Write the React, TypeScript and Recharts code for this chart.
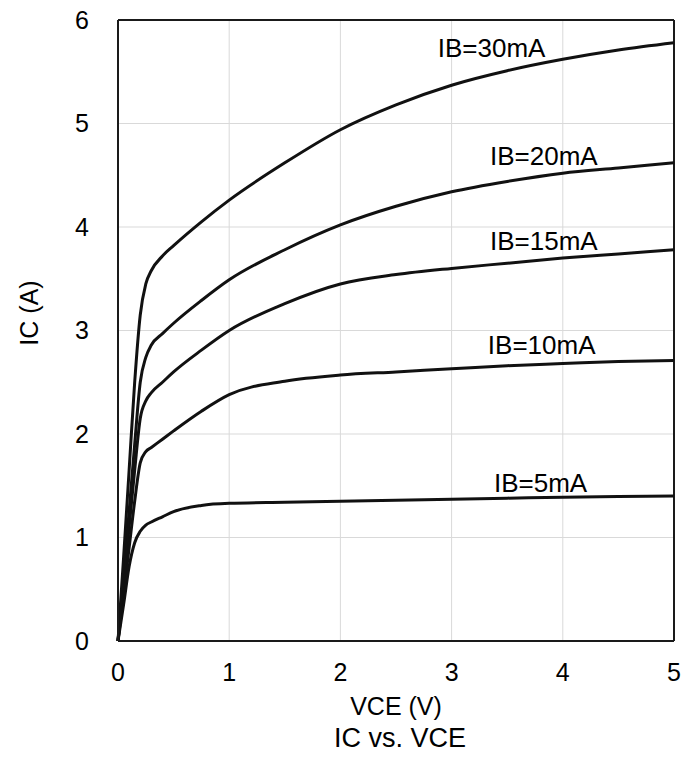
import React from 'react'
import {
  LineChart,
  Line,
  XAxis,
  YAxis,
  CartesianGrid,
  ReferenceLine,
  ReferenceDot,
} from 'recharts'

const FONT = '"Liberation Sans", Arial, sans-serif'

// VCE (V) sample points shared by every curve
const VCE = [0, 0.05, 0.1, 0.15, 0.2, 0.25, 0.3, 0.4, 0.5, 0.75, 1, 1.5, 2, 2.5, 3, 3.5, 4, 4.5, 5]

// IC (A) for each base current
const IB5 = [0, 0.35, 0.72, 0.95, 1.06, 1.12, 1.15, 1.2, 1.25, 1.31, 1.33, 1.34, 1.35, 1.36, 1.37, 1.38, 1.39, 1.395, 1.4]
const IB10 = [0, 0.45, 0.9, 1.35, 1.72, 1.83, 1.87, 1.95, 2.03, 2.22, 2.38, 2.51, 2.57, 2.6, 2.63, 2.66, 2.68, 2.7, 2.71]
const IB15 = [0, 0.55, 1.1, 1.65, 2.15, 2.32, 2.4, 2.5, 2.6, 2.81, 3.0, 3.26, 3.45, 3.54, 3.6, 3.65, 3.7, 3.74, 3.78]
const IB20 = [0, 0.62, 1.25, 1.9, 2.5, 2.74, 2.86, 2.97, 3.07, 3.29, 3.49, 3.78, 4.02, 4.2, 4.34, 4.44, 4.52, 4.57, 4.62]
const IB30 = [0, 0.8, 1.65, 2.5, 3.15, 3.45, 3.58, 3.72, 3.82, 4.05, 4.26, 4.62, 4.94, 5.18, 5.37, 5.51, 5.62, 5.71, 5.78]

const SERIES = [
  { name: 'IB=5mA', ic: IB5 },
  { name: 'IB=10mA', ic: IB10 },
  { name: 'IB=15mA', ic: IB15 },
  { name: 'IB=20mA', ic: IB20 },
  { name: 'IB=30mA', ic: IB30 },
]

// where each curve's label sits, in data units
const LABEL_V = [3.8, 3.81, 3.83, 3.83, 3.36]
const LABEL_I = [1.53, 2.86, 3.87, 4.69, 5.73]

const X_TICKS = [0, 1, 2, 3, 4, 5]
const Y_TICKS = [0, 1, 2, 3, 4, 5, 6]

const toRows = (ic: number[]) => VCE.map((v, i) => ({ vce: v, ic: ic[i] }))

export default function App() {
  const tick = { fontSize: 25, fill: '#000', fontFamily: FONT }

  return (
    <div style={{ position: 'absolute', left: 0, top: 0, width: 694, height: 763, background: '#fff' }}>
      <LineChart
        width={694}
        height={763}
        margin={{ top: 20, right: 20, bottom: 0, left: 0 }}
        style={{ fontFamily: FONT }}
      >
        <CartesianGrid stroke="#d9d9d9" strokeWidth={1} />
        <XAxis
          type="number"
          dataKey="vce"
          domain={[0, 5]}
          ticks={X_TICKS}
          height={122}
          tickSize={0}
          tickMargin={22}
          tick={tick}
          axisLine={{ stroke: '#1a1a1a', strokeWidth: 2 }}
          allowDuplicatedCategory={false}
          label={{
            content: () => (
              <g fontFamily={FONT} fill="#000">
                <text x={396} y={706} fontSize={25} textAnchor="middle" dominantBaseline="central">
                  VCE (V)
                </text>
                <text x={400} y={738} fontSize={27} textAnchor="middle" dominantBaseline="central">
                  IC vs. VCE
                </text>
              </g>
            ),
          }}
        />
        <YAxis
          type="number"
          domain={[0, 6]}
          ticks={Y_TICKS}
          width={118}
          tickSize={0}
          tickMargin={29}
          tick={tick}
          axisLine={{ stroke: '#1a1a1a', strokeWidth: 2 }}
          label={{
            content: () => (
              <text
                x={28.5}
                y={313}
                fontSize={25}
                fontFamily={FONT}
                fill="#000"
                textAnchor="middle"
                dominantBaseline="central"
                transform="rotate(-90 28.5 313)"
              >
                IC (A)
              </text>
            ),
          }}
        />
        <ReferenceLine y={6} stroke="#1a1a1a" strokeWidth={2} />
        <ReferenceLine x={5} stroke="#1a1a1a" strokeWidth={2} />
        {SERIES.map((s) => (
          <Line
            key={s.name}
            data={toRows(s.ic)}
            dataKey="ic"
            type="monotone"
            stroke="#111"
            strokeWidth={3}
            dot={false}
            activeDot={false}
            isAnimationActive={false}
          />
        ))}
        {SERIES.map((s, i) => (
          <ReferenceDot
            key={'lbl' + s.name}
            x={LABEL_V[i]}
            y={LABEL_I[i]}
            r={0}
            fill="none"
            stroke="none"
            label={{
              value: s.name,
              position: 'center',
              fontSize: 26,
              fill: '#000',
              fontFamily: FONT,
            }}
          />
        ))}
      </LineChart>
    </div>
  )
}
